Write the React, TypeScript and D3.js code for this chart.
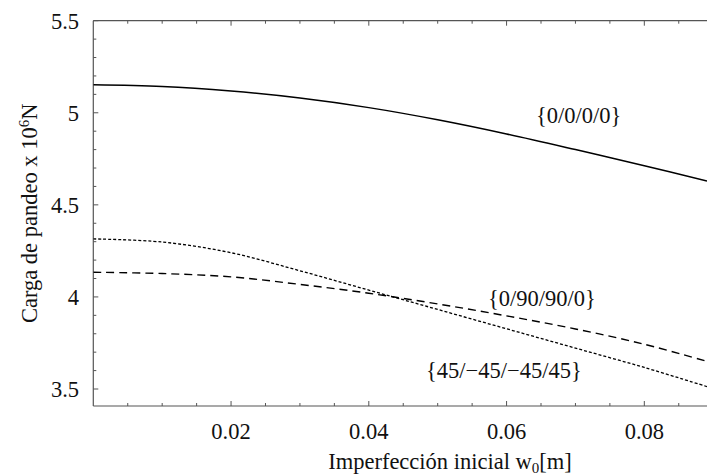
import React from "react";
import * as d3 from "d3";

const xs = [0, 0.01, 0.02, 0.03, 0.04, 0.05, 0.06, 0.07, 0.08, 0.0891];
const solid0000 = [5.152, 5.143, 5.118, 5.08, 5.028, 4.962, 4.885, 4.8, 4.712, 4.63];
const dashed09090 = [4.134, 4.127, 4.109, 4.068, 4.02, 3.962, 3.897, 3.826, 3.743, 3.65];
const dotted45 = [4.315, 4.298, 4.24, 4.142, 4.037, 3.932, 3.827, 3.722, 3.617, 3.513];

const xMajor = [0.02, 0.04, 0.06, 0.08];
const yMajor = [3.5, 4, 4.5, 5, 5.5];
const yTickLabels = ["3.5", "4", "4.5", "5", "5.5"];
const xTickLabels = ["0.02", "0.04", "0.06", "0.08"];

const W = 707;
const H = 475;
const left = 93.3;
const top = 20.7;
const bottom = 406;

export default function App() {
  const x = d3.scaleLinear().domain([0, 0.0891]).range([left, 707]);
  const y = d3.scaleLinear().domain([3.5, 5.5]).range([389, top]);
  const yMin = y.invert(bottom);

  const line = (vals: number[]) =>
    d3
      .line<number>()
      .x((_, i) => x(xs[i]))
      .y((v) => y(v))
      .curve(d3.curveCatmullRom.alpha(0.5))(vals) || "";

  const xMinor = d3.range(0.005, 0.0891, 0.005).filter((v) => !xMajor.some((m) => Math.abs(m - v) < 1e-6));
  const yMinor = d3.range(3.5, 5.51, 0.1).filter((v) => !yMajor.some((m) => Math.abs(m - v) < 1e-6) && v >= yMin);
  const axisColor = "#555";
  const font = "'Liberation Serif', 'Times New Roman', Times, serif";
  const fs = 22.5;
  const ts = { fontFamily: font, fontSize: fs, fill: "#111" } as React.CSSProperties;

  return (
    <svg width={W} height={H} style={{ position: "absolute", left: 0, top: 0, background: "#fff" }}>
      <defs>
        <clipPath id="plot">
          <rect x={left} y={top} width={W - left} height={bottom - top} />
        </clipPath>
      </defs>
      {/* frame */}
      <line x1={left} x2={W} y1={top} y2={top} stroke={axisColor} strokeWidth={1.2} />
      <line x1={left} x2={W} y1={bottom} y2={bottom} stroke={axisColor} strokeWidth={1.2} />
      <line x1={left} x2={left} y1={top} y2={bottom} stroke={axisColor} strokeWidth={1.2} />
      {/* x ticks */}
      {xMajor.map((v) => (
        <g key={"xm" + v}>
          <line x1={x(v)} x2={x(v)} y1={bottom} y2={bottom - 5} stroke={axisColor} />
          <line x1={x(v)} x2={x(v)} y1={top} y2={top + 5} stroke={axisColor} />
        </g>
      ))}
      {xMinor.map((v) => (
        <g key={"xn" + v}>
          <line x1={x(v)} x2={x(v)} y1={bottom} y2={bottom - 3} stroke={axisColor} />
          <line x1={x(v)} x2={x(v)} y1={top} y2={top + 3} stroke={axisColor} />
        </g>
      ))}
      {yMajor.map((v) => (
        <line key={"ym" + v} x1={left} x2={left + 5} y1={y(v)} y2={y(v)} stroke={axisColor} />
      ))}
      {yMinor.map((v) => (
        <line key={"yn" + v} x1={left} x2={left + 3} y1={y(v)} y2={y(v)} stroke={axisColor} />
      ))}
      {/* tick labels */}
      {xMajor.map((v, i) => (
        <text key={"xl" + v} x={x(v)} y={439} textAnchor="middle" style={ts}>
          {xTickLabels[i]}
        </text>
      ))}
      {yMajor.map((v, i) => (
        <text key={"yl" + v} x={79} y={y(v)} dy="0.35em" textAnchor="end" style={ts}>
          {yTickLabels[i]}
        </text>
      ))}
      {/* axis titles */}
      <text x={450} y={469} textAnchor="middle" style={ts}>
        Imperfección inicial w
        <tspan dy={4} style={{ fontSize: 15 }}>0</tspan>
        <tspan dy={-4}>[m]</tspan>
      </text>
      <text transform={`translate(37,${(top + bottom) / 2}) rotate(-90)`} textAnchor="middle" style={ts}>
        Carga de pandeo x 10
        <tspan dy={-8} style={{ fontSize: 15 }}>6</tspan>
        <tspan dy={8}>N</tspan>
      </text>
      {/* curves */}
      <g clipPath="url(#plot)" fill="none" stroke="#000">
        <path d={line(solid0000)} strokeWidth={1.5} />
        <path d={line(dashed09090)} strokeWidth={1.4} strokeDasharray="8,5" />
        <path d={line(dotted45)} strokeWidth={1.3} strokeDasharray="3,2" />
      </g>
      {/* annotations */}
      <text x={536} y={123} style={ts}>{"{0/0/0/0}"}</text>
      <text x={488} y={306} style={ts}>{"{0/90/90/0}"}</text>
      <text x={426} y={378} style={ts}>{"{45/\u221245/\u221245/45}"}</text>
    </svg>
  );
}
